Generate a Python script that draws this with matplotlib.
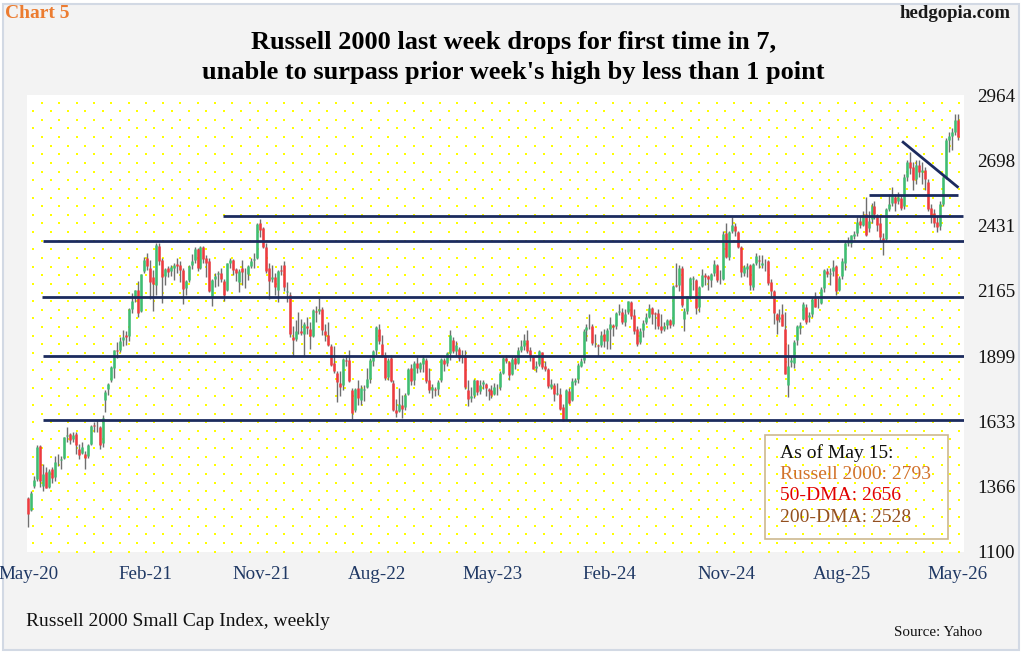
import matplotlib
matplotlib.use('Agg')
import matplotlib.pyplot as plt
import matplotlib.dates as mdates
from matplotlib.patches import Rectangle
import numpy as np
import pandas as pd

plt.rcParams['font.family'] = ['Liberation Serif', 'DejaVu Serif']

# ---------------- data (weekly OHLC, Russell 2000) ----------------
first_week = '2020-05-11'
n_weeks = 314

opens = [
    # 2020
    1322,1270,1370,1397,1533,1370,1425,1365,1440,1405,1470,1475,1485,1575,1580,1560,1580,1520,1505,1500,1490,1540,1620,1620,1610,1545,1720,1765,1800,1850,1925,1925,1965,1985,
    # 2021
    1980,2090,2135,2170,2085,2245,2300,2260,2220,2190,2350,2290,2225,2260,2245,2260,2275,2270,2250,2175,2210,2270,2290,2335,2260,2345,2300,2285,2140,2215,2235,2240,2205,2170,2280,2290,2255,2200,2260,2235,2235,2265,2290,2300,2440,2420,2345,2260,2215,2220,2170,2250,
    # 2022
    2270,2160,2150,1975,1970,2010,2000,1990,2020,2010,1980,2085,2085,2090,2000,1985,1940,1870,1830,1790,1780,1885,1885,1760,1680,1770,1720,1760,1775,1805,1880,1925,2010,1950,1905,1815,1890,1790,1680,1675,1700,1690,1745,1850,1800,1870,1845,1865,1885,1800,1760,1765,
    # 2023
    1765,1800,1885,1870,1910,1965,1920,1930,1895,1905,1760,1730,1740,1800,1755,1785,1785,1765,1760,1745,1775,1775,1830,1890,1875,1825,1890,1870,1925,1940,1965,1925,1895,1850,1865,1915,1860,1845,1775,1780,1745,1745,1690,1640,1755,1720,1795,1805,1860,1885,2005,2025,
    # 2024
    2020,1950,1945,1945,1990,1960,2010,2025,2020,2080,2080,2040,2080,2120,2065,2010,1955,2005,2040,2060,2095,2075,2075,2020,2010,2025,2045,2030,2190,2190,2260,2050,2085,2145,2215,2210,2100,2185,2230,2225,2210,2240,2270,2210,2215,2400,2305,2410,2430,2405,2345,2240,2255,
    # 2025
    2270,2180,2280,2290,2270,2280,2285,2200,2165,2070,2050,2070,2010,1780,1875,1870,1965,2015,2050,2100,2060,2070,2135,2110,2115,2175,2245,2235,2245,2265,2170,2225,2280,2360,2360,2390,2400,2450,2435,2480,2420,2460,2510,2475,2440,2380,2375,2500,2525,2550,2530,2545,
    # 2026
    2510,2630,2690,2670,2620,2680,2650,2660,2610,2503,2482,2445,2430,2520,2630,2780,2795,2815,2860,
]
highs = [
    1323,1350,1410,1536,1536,1460,1445,1440,1445,1490,1500,1490,1570,1610,1585,1590,1590,1540,1550,1510,1540,1620,1630,1640,1615,1660,1760,1790,1860,1925,1955,1975,2006,2000,
    2095,2155,2170,2205,2235,2305,2320,2290,2250,2360,2360,2300,2260,2265,2270,2280,2300,2285,2260,2210,2270,2315,2345,2340,2350,2350,2310,2300,2215,2240,2245,2260,2215,2280,2300,2295,2260,2255,2290,2260,2270,2300,2320,2440,2459,2425,2360,2280,2270,2240,2250,2270,
    2285,2200,2160,2020,2045,2080,2050,2040,2060,2040,2090,2105,2135,2100,2030,2040,1950,1940,1840,1840,1890,1905,1925,1770,1770,1800,1780,1780,1850,1890,1925,2020,2030,1985,1915,1890,1905,1800,1725,1770,1740,1750,1850,1865,1880,1895,1875,1905,1890,1850,1785,1775,
    1800,1890,1890,1915,2005,1975,1960,1935,1925,1925,1800,1775,1805,1800,1800,1800,1790,1770,1780,1790,1785,1840,1895,1905,1880,1895,1895,1935,1965,1990,2005,1935,1900,1880,1925,1915,1880,1850,1805,1790,1790,1770,1705,1765,1770,1810,1810,1870,1890,2010,2030,2070,
    2030,1990,1950,2000,2010,2015,2060,2030,2080,2110,2095,2090,2125,2125,2090,2020,2015,2045,2075,2110,2100,2080,2090,2070,2040,2050,2050,2190,2280,2270,2265,2095,2145,2220,2225,2215,2185,2255,2240,2230,2240,2290,2275,2250,2410,2440,2410,2466,2440,2410,2350,2270,2280,
    2275,2280,2320,2310,2310,2295,2290,2215,2170,2075,2090,2110,2080,1950,1900,1965,2025,2040,2120,2110,2080,2140,2160,2135,2180,2255,2260,2260,2290,2270,2225,2300,2370,2385,2395,2410,2465,2470,2490,2550,2490,2525,2530,2480,2475,2400,2505,2560,2590,2560,2570,2555,
    2640,2700,2733,2690,2700,2698,2690,2670,2620,2520,2500,2470,2530,2640,2790,2815,2830,2886,2885,
]
lows = [
    1204,1268,1360,1390,1364,1350,1360,1360,1380,1390,1450,1440,1480,1550,1540,1550,1500,1480,1500,1440,1485,1535,1590,1590,1520,1530,1670,1740,1795,1810,1890,1915,1940,1945,
    1960,2075,2120,2060,2080,2240,2250,2130,2085,2150,2270,2115,2190,2220,2225,2210,2240,2200,2110,2150,2200,2255,2280,2245,2255,2280,2220,2160,2105,2180,2185,2200,2125,2165,2260,2230,2205,2160,2190,2175,2210,2260,2260,2295,2385,2340,2240,2130,2200,2150,2120,2230,
    2165,2120,1975,1900,1960,1990,1985,1900,1990,1930,1975,2040,2070,1985,1960,1940,1860,1830,1710,1735,1760,1860,1795,1641,1670,1700,1700,1715,1770,1790,1860,1905,1950,1895,1800,1800,1795,1675,1650,1670,1645,1680,1740,1780,1780,1830,1835,1835,1790,1750,1730,1735,
    1740,1795,1840,1860,1885,1910,1900,1880,1870,1765,1695,1710,1730,1740,1745,1765,1735,1720,1730,1740,1740,1760,1825,1870,1800,1820,1845,1865,1915,1925,1910,1880,1845,1835,1860,1845,1840,1770,1765,1715,1740,1680,1633,1640,1705,1715,1780,1790,1855,1870,1960,2010,
    1945,1935,1900,1935,1935,1930,1930,1980,2010,2065,2030,2020,2070,2050,1990,1940,1950,1975,2030,2055,2030,2010,2010,1995,2000,2010,2015,2020,2180,2165,2100,2000,2070,2130,2170,2070,2080,2180,2190,2170,2180,2225,2200,2195,2210,2300,2290,2400,2390,2340,2220,2225,2220,
    2170,2170,2270,2260,2260,2245,2190,2140,2030,1990,2040,2020,1825,1732,1855,1850,1945,1990,2045,2030,2040,2060,2100,2095,2110,2160,2220,2190,2225,2150,2165,2215,2250,2350,2345,2375,2390,2420,2430,2390,2405,2440,2460,2410,2365,2310,2370,2490,2510,2490,2520,2495,
    2500,2615,2640,2576,2600,2629,2600,2576,2490,2441,2425,2406,2415,2510,2620,2730,2740,2800,2780,
]
closes = [
    1256,1340,1394,1529,1388,1418,1361,1431,1403,1466,1473,1480,1568,1578,1555,1579,1536,1497,1529,1484,1536,1614,1615,1620,1538,1645,1754,1786,1855,1925,1919,1961,1975,1975,
    2092,2123,2168,2073,2233,2289,2266,2201,2192,2352,2286,2221,2254,2243,2263,2270,2266,2251,2172,2204,2268,2286,2335,2258,2346,2297,2280,2164,2210,2226,2238,2213,2150,2277,2292,2250,2237,2248,2241,2233,2265,2286,2297,2437,2415,2343,2245,2207,2220,2181,2248,2245,
    2179,2163,1988,1964,2002,2009,1994,2030,2015,1979,2086,2077,2093,2005,1986,1946,1864,1839,1792,1773,1887,1880,1797,1665,1765,1728,1770,1765,1806,1885,1921,2016,1959,1899,1809,1882,1798,1679,1665,1705,1682,1742,1846,1796,1870,1849,1869,1892,1796,1762,1772,1761,
    1792,1887,1868,1911,1985,1918,1946,1890,1900,1773,1725,1735,1802,1753,1783,1792,1768,1758,1740,1773,1773,1831,1890,1880,1822,1889,1865,1922,1940,1964,1921,1898,1848,1860,1920,1853,1847,1776,1785,1745,1748,1683,1636,1760,1706,1797,1800,1863,1880,2001,2019,2027,
    1951,1950,1941,1985,1962,2007,2030,2016,2076,2084,2040,2072,2125,2063,2003,1947,2002,2035,2059,2096,2069,2070,2022,2006,2022,2048,2026,2184,2184,2260,2109,2081,2143,2218,2218,2097,2182,2228,2220,2212,2234,2276,2208,2209,2399,2303,2407,2434,2408,2346,2243,2261,2268,
    2189,2275,2307,2288,2280,2280,2196,2163,2076,2045,2057,2023,1827,1860,1883,1957,2020,2025,2113,2039,2067,2132,2100,2110,2173,2249,2234,2240,2261,2166,2218,2286,2362,2366,2391,2397,2448,2434,2476,2394,2452,2513,2479,2432,2386,2369,2500,2521,2551,2525,2548,2505,
    2630,2690,2665,2617,2680,2650,2660,2620,2500,2470,2440,2425,2520,2629,2780,2795,2815,2862,2793,
]

# support / resistance lines drawn on the chart
level_values = [1640, 1900, 2140, 2370, 2470, 2556]
level_starts = ['2020-06-14', '2020-06-14', '2020-06-12', '2020-06-14', '2021-08-12', '2025-10-13']
level_ends = ['2026-05-30', '2026-05-30', '2026-05-30', '2026-05-30', '2026-05-24', '2026-05-13']
trend_dates = ['2025-12-31', '2026-05-13']
trend_values = [2775, 2586]

x_tick_dates = ['2020-05-11', '2021-02-11', '2021-11-11', '2022-08-11', '2023-05-11',
                '2024-02-11', '2024-11-11', '2025-08-11', '2026-05-11']
x_tick_labels = ['May-20', 'Feb-21', 'Nov-21', 'Aug-22', 'May-23', 'Feb-24', 'Nov-24', 'Aug-25', 'May-26']
y_min, y_max = 1100, 2964
y_tick_labels = ['1100', '1366', '1633', '1899', '2165', '2431', '2698', '2964']

legend_lines = ['As of May 15:', 'Russell 2000: 2793', '50-DMA: 2656', '200-DMA: 2528']
legend_colors = ['#111111', '#d2722a', '#e00000', '#94501f']

# ---------------- figure ----------------
W, H = 1024, 654
fig = plt.figure(figsize=(W / 100, H / 100), dpi=100)
fig.patch.set_facecolor('white')

def fx(px):
    return px / W

def fy(py):
    return 1 - py / H

fig.add_artist(Rectangle((fx(3), fy(650)), fx(1016), 646 / H, transform=fig.transFigure,
                         facecolor='#f3f3f3', edgecolor='#d2d9e4', lw=1.5, zorder=-10))

ax_l, ax_r, ax_t, ax_b = 27, 964, 95, 552
ax = fig.add_axes([fx(ax_l), fy(ax_b), (ax_r - ax_l) / W, (ax_b - ax_t) / H])
ax.set_facecolor('white')
for s in ax.spines.values():
    s.set_visible(False)

# dotted yellow background pattern
dxs, dys = [], []
k = 0
yp = 102.5
while yp <= 553:
    xp = 42.0 if k % 2 == 0 else 33.35
    while xp <= 962:
        dxs.append((xp - ax_l) / (ax_r - ax_l))
        dys.append((ax_b - yp) / (ax_b - ax_t))
        xp += 17.3
    yp += 8.64
    k += 1
ax.scatter(dxs, dys, s=4.2, marker='s', color='#ffff00', linewidths=0,
           transform=ax.transAxes, zorder=0)

dates = pd.date_range(first_week, periods=n_weeks, freq='7D')
xs = mdates.date2num(dates)
o = np.array(opens, float)
h = np.array(highs, float)
l = np.array(lows, float)
c = np.array(closes, float)
up = c >= o

ax.vlines(xs, l, h, color='#6f6f6f', lw=1.0, zorder=2)
ax.vlines(xs[up], o[up], c[up], color='#3dbf72', lw=1.8, zorder=3)
ax.vlines(xs[~up], c[~up], o[~up], color='#f03a3e', lw=1.8, zorder=3)

navy = '#1c2b5e'
for v, s0, s1 in zip(level_values, level_starts, level_ends):
    ax.plot(mdates.date2num(pd.to_datetime([s0, s1])), [v, v], color=navy, lw=2.0,
            solid_capstyle='butt', zorder=4)
ax.plot(mdates.date2num(pd.to_datetime(trend_dates)), trend_values, color=navy, lw=2.0,
        solid_capstyle='butt', zorder=4)

ax.set_xlim(mdates.date2num(pd.Timestamp('2020-05-08')), mdates.date2num(pd.Timestamp('2026-05-26')))
ax.set_ylim(y_min, y_max)

ax.set_xticks(mdates.date2num(pd.to_datetime(x_tick_dates)))
ax.set_xticklabels(x_tick_labels, fontsize=13.7, color='#1f3864')
ax.set_yticks(np.linspace(y_min, y_max, len(y_tick_labels)))
ax.set_yticklabels(y_tick_labels, fontsize=13.7, color='#111111')
ax.yaxis.tick_right()
ax.tick_params(axis='x', length=0, pad=10)
ax.tick_params(axis='y', length=0, pad=9.5)

# texts
fig.text(fx(5), fy(14), 'Chart 5', fontsize=14, fontweight='bold', color='#ec7c30',
         ha='left', va='center')
fig.text(fx(1011), fy(14), 'hedgopia.com', fontsize=13.5, fontweight='bold', color='#1a1a1a',
         ha='right', va='center')
fig.text(fx(514), fy(42), 'Russell 2000 last week drops for first time in 7,', fontsize=19,
         fontweight='bold', color='black', ha='center', va='center')
fig.text(fx(513), fy(72), "unable to surpass prior week's high by less than 1 point", fontsize=19,
         fontweight='bold', color='black', ha='center', va='center')
fig.text(fx(26), fy(622), 'Russell 2000 Small Cap Index, weekly', fontsize=14, color='#111111',
         ha='left', va='center')
fig.text(fx(982), fy(632), 'Source: Yahoo', fontsize=10.8, color='#111111',
         ha='right', va='center')

# info box
fig.add_artist(Rectangle((fx(765), fy(539)), fx(948) - fx(765), (539 - 435) / H,
                         transform=fig.transFigure, facecolor='none', edgecolor='#cdb98f',
                         lw=1.2, zorder=5))
for i, (t, col) in enumerate(zip(legend_lines, legend_colors)):
    fig.text(fx(780), fy(453 + i * 21.5), t, fontsize=14, color=col, ha='left', va='center',
             zorder=6)

fig.savefig('out.png', dpi=100, facecolor=fig.get_facecolor())
